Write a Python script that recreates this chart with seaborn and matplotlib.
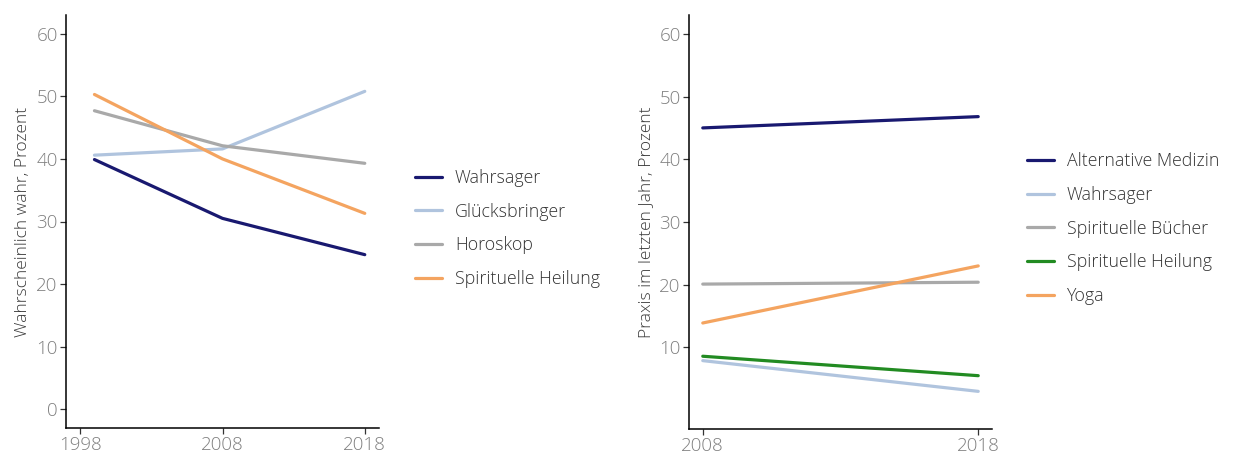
import matplotlib.pyplot as plt
import pandas as pd
import seaborn as sns

# Left panel: "wahrscheinlich wahr" (believed probably true)
years_left = [1999, 2008, 2018]
wahrsager_left = [39.9, 30.5, 24.7]
gluecksbringer = [40.6, 41.6, 50.8]
horoskop = [47.7, 42.1, 39.3]
heilung_left = [50.3, 40.0, 31.3]

# Right panel: practice in the last year
years_right = [2008, 2018]
alt_medizin = [45.0, 46.8]
wahrsager_right = [7.9, 3.0]
buecher = [20.1, 20.4]
heilung_right = [8.6, 5.5]
yoga = [13.9, 23.0]

left_labels = ['Wahrsager', 'Glücksbringer', 'Horoskop', 'Spirituelle Heilung']
right_labels = ['Alternative Medizin', 'Wahrsager', 'Spirituelle Bücher',
                'Spirituelle Heilung', 'Yoga']

left_colors = ['#191970', '#b0c4de', '#a9a9a9', '#f4a460']
right_colors = ['#191970', '#b0c4de', '#a9a9a9', '#228b22', '#f4a460']


def long_df(years, series, labels):
    rows = []
    for lab, vals in zip(labels, series):
        for y, v in zip(years, vals):
            rows.append({'Jahr': y, 'Wert': v, 'Item': lab})
    return pd.DataFrame(rows)


left_df = long_df(years_left, [wahrsager_left, gluecksbringer, horoskop, heilung_left],
                  left_labels)
right_df = long_df(years_right, [alt_medizin, wahrsager_right, buecher, heilung_right, yoga],
                   right_labels)

sns.set_theme(style='white')
plt.rcParams['font.family'] = ['Open Sans', 'DejaVu Sans']

W, H = 1242, 454
fig = plt.figure(figsize=(W / 100, H / 100), dpi=100)
ax1 = fig.add_axes([66 / W, (H - 428) / H, (379 - 66) / W, (428 - 15) / H])
ax2 = fig.add_axes([689 / W, (H - 429) / H, (992 - 689) / W, (429 - 15) / H])

sns.lineplot(data=left_df, x='Jahr', y='Wert', hue='Item', hue_order=left_labels,
             palette=dict(zip(left_labels, left_colors)), linewidth=2.3, ax=ax1)
sns.lineplot(data=right_df, x='Jahr', y='Wert', hue='Item', hue_order=right_labels,
             palette=dict(zip(right_labels, right_colors)), linewidth=2.3, ax=ax2)

ax1.set_xlim(1997, 2019)
ax1.set_xticks([1998, 2008, 2018])
ax1.set_ylim(-3, 63)
ax1.set_yticks([0, 10, 20, 30, 40, 50, 60])
ax1.set_ylabel('Wahrscheinlich wahr, Prozent')

ax2.set_xlim(2007.5, 2018.5)
ax2.set_xticks([2008, 2018])
ax2.set_ylim(-3, 63)
ax2.set_yticks([10, 20, 30, 40, 50, 60])
ax2.set_ylabel('Praxis im letzten Jahr, Prozent')

for ax, anchor_x in [(ax1, 415 / W), (ax2, 1027 / W)]:
    sns.despine(ax=ax)
    for s in ['left', 'bottom']:
        ax.spines[s].set_color('black')
        ax.spines[s].set_linewidth(1.1)
    ax.tick_params(axis='both', which='major', length=4, width=0.9, color='#333333',
                   labelsize=13.5, labelcolor='#7f7f7f', bottom=True, left=True, pad=2)
    for t in ax.get_xticklabels() + ax.get_yticklabels():
        t.set_fontweight('light')
    ax.set_xlabel('')
    ax.yaxis.label.set_size(12.5)
    ax.yaxis.label.set_color('#3a3a3a')
    ax.yaxis.label.set_fontweight('light')
    h, l = ax.get_legend_handles_labels()
    ax.get_legend().remove()
    leg = fig.legend(h, l, loc='center left', bbox_to_anchor=(anchor_x, (H - 228.5) / H),
                     frameon=False, fontsize=12.8, borderpad=0, borderaxespad=0,
                     handlelength=1.5, handletextpad=0.75, labelspacing=0.88)
    for t in leg.get_texts():
        t.set_color('#333333')
        t.set_fontweight('light')

fig.savefig('out.png', dpi=100)
